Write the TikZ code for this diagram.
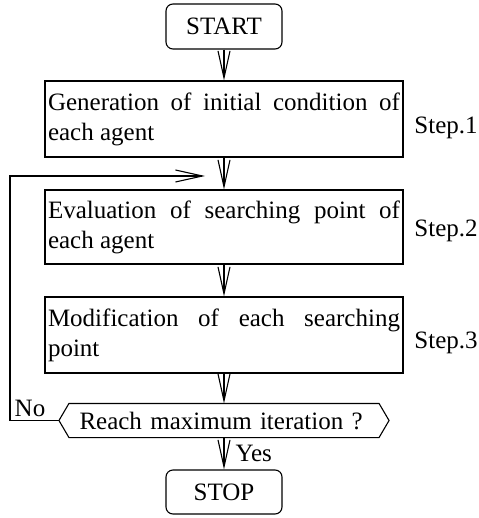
\documentclass[tikz,border=0pt]{standalone}
\usepackage{fontspec}
\setmainfont{Liberation Serif}
\usetikzlibrary{arrows.meta}
\begin{document}
\begin{tikzpicture}[x=1pt,y=-1pt,line width=1.1pt]
				\tikzset{term/.style={draw,rounded corners=7pt,minimum width=116pt,minimum height=45pt,inner sep=0pt,font=\fontsize{25}{30}\selectfont},
					proc/.style={draw,text width=352pt,inner xsep=3pt,inner ysep=0pt,align=justify,minimum height=76pt,font=\fontsize{25}{30}\selectfont},
					lbl/.style={inner sep=0pt,font=\fontsize{25}{30}\selectfont},
					arr/.style={-{Straight Barb[length=27pt,width=12pt]}}}
				\useasboundingbox (0,0) rectangle (478,518);
				\node[term](start) at (224,26.5){START};
				\node[proc](gen) at (224,119){Generation of initial condition of each agent};
				\node[proc,minimum height=74pt](eval) at (224,227){Evaluation of searching point of each agent};
				\node[proc](mod) at (224,335){Modification of each searching point};
				\node[lbl,text width=289pt,inner xsep=10pt,align=left,minimum height=33pt](reach) at (224,420.5){Reach maximum iteration ?};
				\draw([xshift=-10pt]reach.west)coordinate(rl)--(reach.north west)--(reach.north east)--([xshift=10pt]reach.east)--(reach.south east)--(reach.south west)--cycle;
				\node[term,minimum height=44pt](stop) at (224,492){STOP};
				\foreach \a/\b in {start/gen,gen/eval,eval/mod,mod/reach,reach/stop}
				\draw[arr](\a)--(\b);
				\coordinate(loop) at (10,176);
				\coordinate(back) at (205,176);
				\draw[arr](rl)-|(loop)--(back);
				\node[lbl] at (30,408){No};
				\node[lbl,anchor=west] at (235,453){Yes};
				\foreach \n/\y in {1/128,2/231,3/343}
				\node[lbl] at (446,\y){Step.\n};
			\end{tikzpicture}
\end{document}
